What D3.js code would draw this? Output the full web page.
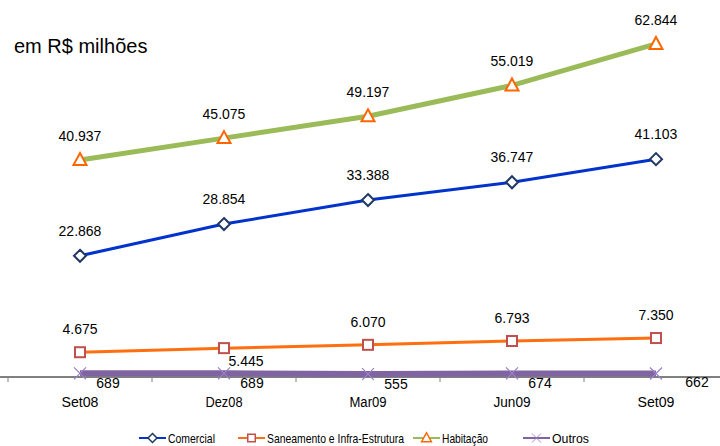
<!doctype html>
<html>
<head>
<meta charset="utf-8">
<style>
body { margin: 0; background: #fff; }
svg { display: block; }
.val { font-family: "Liberation Sans", Arial, sans-serif; font-size: 14px; fill: #000; }
.cat { font-family: "Liberation Sans", Arial, sans-serif; font-size: 14px; fill: #000; }
.leg { font-family: "Liberation Sans", Arial, sans-serif; font-size: 13px; fill: #000; }
</style>
<script src="https://d3js.org/d3.v7.min.js"></script>
</head>
<body>
<svg width="720" height="446"></svg>
<script>
var categories = ["Set08", "Dez08", "Mar09", "Jun09", "Set09"];
var comercial = [22868, 28854, 33388, 36747, 41103];
var saneamento = [4675, 5445, 6070, 6793, 7350];
var habitacao = [40937, 45075, 49197, 55019, 62844];
var outros = [689, 689, 555, 674, 662];
var seriesNames = ["Comercial", "Saneamento e Infra-Estrutura", "Habitação", "Outros"];

var fmt = function(v) { return d3.format(",")(v).replace(/,/g, "."); };

var series = [
	{ name: seriesNames[0], values: comercial, line: "#0033CC", mark: "#1F3864", width: 3, shape: "diamond", lab: [0, -20], lw: 47 },
	{ name: seriesNames[1], values: saneamento, line: "#FF6F0F", mark: "#C0504D", width: 3, shape: "square", lab: [0, -18], lw: 137 },
	{ name: seriesNames[2], values: habitacao, line: "#9BBB59", mark: "#FF6600", width: 5, shape: "triangle", lab: [0, -19], lw: 46 },
	{ name: seriesNames[3], values: outros, line: "#8064A2", mark: "#8064A2", width: 6, shape: "x", lab: [28, 15], lw: 37 }
];

var svg = d3.select("svg");
var x = d3.scaleBand().domain(categories).range([8, 728]);
var y = d3.scaleLinear().domain([0, 70000]).range([377, 6]);
var cx = function(i) { return x(categories[i]) + x.bandwidth() / 2; };

svg.append("text").attr("x", 14).attr("y", 53)
	.attr("font-family", "Liberation Sans, Arial, sans-serif")
	.attr("font-size", "20px").text("em R$ milhões");

// axis
var axis = svg.append("g").attr("transform", "translate(0," + y(0) + ")");
axis.append("line").attr("x1", 0).attr("x2", 720).attr("stroke", "#808080").attr("stroke-width", 2);
categories.concat(["end"]).forEach(function(c, i) {
	var tx = 8 + i * x.bandwidth();
	axis.append("line").attr("x1", tx).attr("x2", tx).attr("y1", 0).attr("y2", 5)
		.attr("stroke", "#808080").attr("stroke-width", 1);
});
categories.forEach(function(c, i) {
	axis.append("text").attr("class", "cat").attr("x", cx(i)).attr("y", 30)
		.attr("text-anchor", "middle").attr("textLength", 37).attr("lengthAdjust", "spacingAndGlyphs").text(c);
});

function marker(g, shape, color) {
	if (shape === "diamond")
		g.append("path").attr("d", "M0,-6L6,0L0,6L-6,0Z").attr("fill", "#fff").attr("stroke", color).attr("stroke-width", 2);
	else if (shape === "square")
		g.append("rect").attr("x", -5).attr("y", -5).attr("width", 10).attr("height", 10)
			.attr("fill", "#fff").attr("stroke", color).attr("stroke-width", 2);
	else if (shape === "triangle")
		g.append("path").attr("d", "M0,-7L6.5,5L-6.5,5Z").attr("fill", "#fff").attr("stroke", color).attr("stroke-width", 2);
	else
		g.append("path").attr("d", "M-6,-6L6,6M-6,6L6,-6").attr("stroke", "#9B7FC8").attr("stroke-width", 1.2);
}

var line = d3.line().x(function(d, i) { return cx(i); }).y(function(d) { return y(d); });

series.forEach(function(s) {
	svg.append("path").datum(s.values).attr("d", line).attr("fill", "none")
		.attr("stroke", s.line).attr("stroke-width", s.width);
});

series.forEach(function(s) {
	s.values.forEach(function(v, i) {
		var g = svg.append("g").attr("transform", "translate(" + cx(i) + "," + y(v) + ")");
		marker(g, s.shape, s.mark);
		var off = s.lab;
		if (s.shape === "square" && i === 1) off = [22, 18];
		if (s.shape === "x" && i === 4) off = [41, 14];
		svg.append("text").attr("class", "val").attr("x", cx(i) + off[0]).attr("y", y(v) + off[1])
			.attr("text-anchor", "middle").text(fmt(v));
	});
});

// legend
var legX = [139, 238, 413, 523];
series.forEach(function(s, i) {
	var g = svg.append("g").attr("transform", "translate(" + legX[i] + ",438)");
	g.append("line").attr("x1", 0).attr("x2", 27).attr("stroke", s.line).attr("stroke-width", 2);
	var m = g.append("g").attr("transform", "translate(13.5,0) scale(0.75)");
	marker(m, s.shape, s.mark);
	g.append("text").attr("class", "leg").attr("x", 29).attr("y", 5)
		.attr("textLength", s.lw).attr("lengthAdjust", "spacingAndGlyphs").text(s.name);
});
</script>
</body>
</html>
